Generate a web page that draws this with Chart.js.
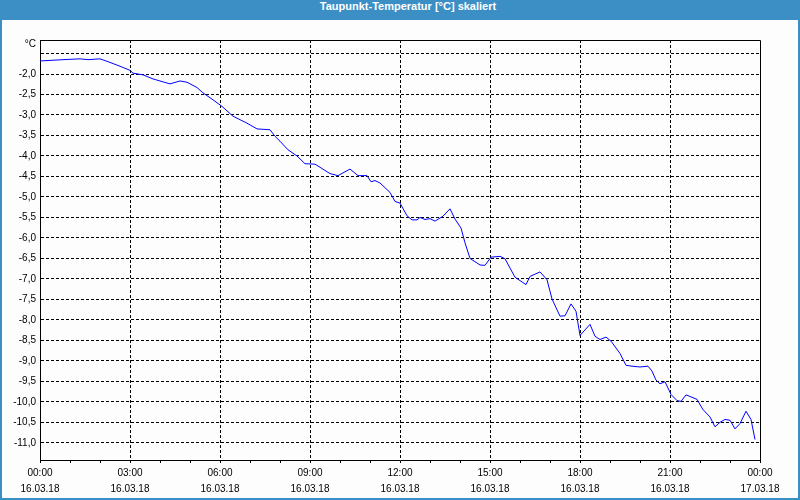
<!DOCTYPE html>
<html>
<head>
<meta charset="utf-8">
<script src="https://cdn.jsdelivr.net/npm/chart.js@4"></script>
<style>
  html, body { margin: 0; padding: 0; }
  #frame { position: relative; width: 800px; height: 500px; background: #3c8fc5; }
  #inner { position: absolute; left: 2px; top: 20px; width: 796px; height: 478px; background: #fcfdfc; }
  #title { position: absolute; left: 16px; top: 0; width: 784px; height: 19px; line-height: 19px;
           text-align: center; color: #fff; font: bold 11px "Liberation Sans", sans-serif; }
  #chart { position: absolute; left: 0; top: 0; }
</style>
</head>
<body>
<div id="frame">
  <div id="inner"></div>
  <div id="title">Taupunkt-Temperatur [°C] skaliert</div>
  <canvas id="chart" width="800" height="500"></canvas>
</div>
<script>
// minutes since 16.03.18 00:00
const minutes = [0, 2, 46, 80, 96, 120, 134, 160, 180, 186, 206, 226, 254, 260, 280, 294, 314, 326, 346, 364,
  386, 414, 434, 460, 470, 480, 496, 514, 530, 550, 580, 596, 620, 636, 654, 662, 670, 680, 700, 710,
  720, 734, 744, 754, 760, 770, 780, 790, 806, 820, 830, 842, 850, 860, 880, 890, 902, 920, 930, 950,
  972, 980, 1000, 1014, 1024, 1040, 1050, 1062, 1072, 1080, 1100, 1110, 1120, 1132, 1142, 1160, 1172, 1184, 1200, 1216,
  1224, 1232, 1240, 1250, 1262, 1274, 1282, 1292, 1304, 1314, 1326, 1340, 1350, 1360, 1370, 1380, 1390, 1400, 1412, 1422,
  1430];
const dewPoint = [-1.68, -1.68, -1.65, -1.63, -1.65, -1.63, -1.69, -1.81, -1.91, -1.98, -2.02, -2.12, -2.22, -2.24, -2.17, -2.20, -2.33, -2.46, -2.63, -2.79,
  -3.03, -3.20, -3.34, -3.36, -3.52, -3.64, -3.85, -4.00, -4.19, -4.20, -4.43, -4.48, -4.32, -4.48, -4.48, -4.63, -4.60, -4.66, -4.89, -5.11,
  -5.15, -5.46, -5.56, -5.56, -5.50, -5.55, -5.53, -5.59, -5.47, -5.29, -5.54, -5.76, -6.12, -6.50, -6.66, -6.67, -6.47, -6.45, -6.51, -6.96,
  -7.14, -6.94, -6.83, -7.02, -7.49, -7.91, -7.90, -7.61, -7.79, -8.38, -8.11, -8.40, -8.48, -8.42, -8.52, -8.82, -9.11, -9.13, -9.15, -9.13,
  -9.25, -9.47, -9.56, -9.51, -9.82, -9.97, -9.99, -9.83, -9.89, -9.94, -10.19, -10.37, -10.61, -10.50, -10.43, -10.45, -10.66, -10.53, -10.23, -10.43,
  -10.92];

const timeLabels = ['00:00', '03:00', '06:00', '09:00', '12:00', '15:00', '18:00', '21:00', '00:00'];
const dateLabels = ['16.03.18', '16.03.18', '16.03.18', '16.03.18', '16.03.18', '16.03.18', '16.03.18', '16.03.18', '17.03.18'];
const yMin = -11.42;
const yMax = -1.17;

const font = { family: '"Liberation Sans", sans-serif', size: 10 };

// top/right frame of the plot and the unit label
const framePlugin = {
  id: 'frame',
  afterDraw(chart) {
    const { ctx, chartArea: a } = chart;
    ctx.save();
    ctx.strokeStyle = '#000';
    ctx.lineWidth = 1;
    ctx.beginPath();
    ctx.moveTo(a.left + 0.5, a.top + 0.5);
    ctx.lineTo(a.right + 0.5, a.top + 0.5);
    ctx.lineTo(a.right + 0.5, a.bottom);
    ctx.stroke();
    ctx.fillStyle = '#000';
    ctx.font = '10px "Liberation Sans", sans-serif';
    ctx.textAlign = 'right';
    ctx.textBaseline = 'middle';
    ctx.fillText('°C', a.left - 4, a.top + 4);
    ctx.restore();
  }
};

new Chart(document.getElementById('chart'), {
  type: 'line',
  data: {
    datasets: [{
      data: minutes.map((m, i) => ({ x: m, y: dewPoint[i] })),
      borderColor: '#0000ff',
      borderWidth: 1,
      pointRadius: 0,
      tension: 0
    }]
  },
  options: {
    responsive: false,
    animation: false,
    layout: { padding: { top: 40, right: 40, left: 0, bottom: 0 } },
    plugins: { legend: { display: false }, tooltip: { enabled: false } },
    scales: {
      x: {
        type: 'linear',
        min: 0,
        max: 1440,
        afterFit(s) { s.height = 40; },
        afterBuildTicks(s) {
          s.ticks = [];
          for (let v = 0; v <= 1440; v += 60) s.ticks.push({ value: v });
        },
        ticks: {
          autoSkip: false,
          maxRotation: 0,
          padding: 2,
          color: '#000',
          font: { ...font, lineHeight: 1.6 },
          callback(v) {
            if (v % 180 !== 0) return '';
            const i = v / 180;
            return [timeLabels[i], dateLabels[i]];
          }
        },
        grid: {
          color: c => (c.tick && c.tick.value % 180 === 0 && c.tick.value > 0 && c.tick.value < 1440) ? '#000' : 'rgba(0,0,0,0)',
          tickColor: '#000',
          tickLength: 3,
          tickBorderDash: []
        },
        border: { display: true, color: '#000', width: 1, dash: [3, 2] }
      },
      y: {
        min: yMin,
        max: yMax,
        afterFit(s) { s.width = 40; },
        afterBuildTicks(s) {
          s.ticks = [];
          for (let v = -11.0; v <= -1.5 + 1e-9; v += 0.5) s.ticks.push({ value: Math.round(v * 10) / 10 });
        },
        ticks: {
          padding: 4,
          color: '#000',
          font: font,
          callback(v) {
            if (v > -2) return '';
            return v.toFixed(1).replace('.', ',');
          }
        },
        grid: { color: '#000', drawTicks: false },
        border: { display: true, color: '#000', width: 1, dash: [3, 2] }
      }
    }
  },
  plugins: [framePlugin]
});
</script>
</body>
</html>
